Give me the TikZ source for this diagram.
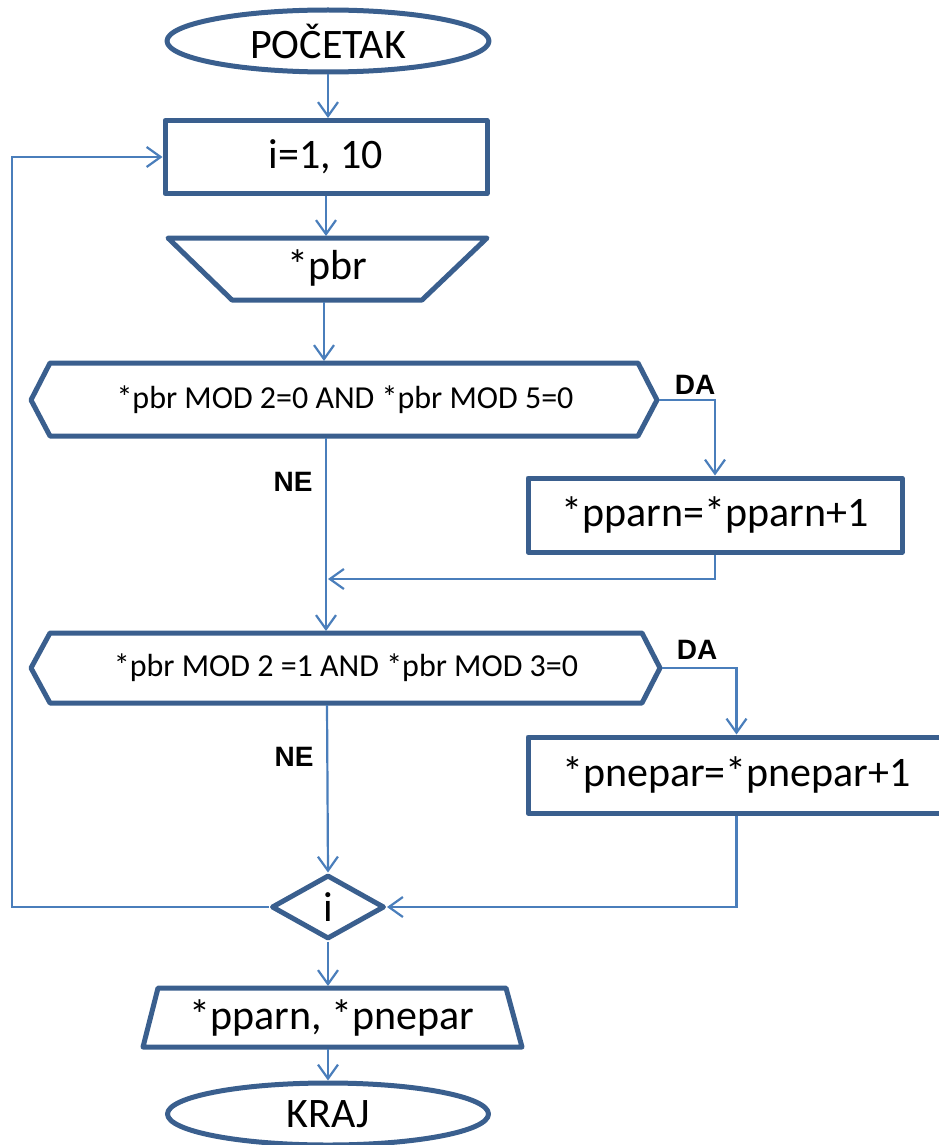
\documentclass[tikz,border=0pt]{standalone}
\usepackage{fontspec}
\setmainfont{Carlito}
\newfontfamily\labfont{Liberation Sans}
\usetikzlibrary{arrows.meta,shapes.geometric}
\definecolor{outl}{HTML}{3A5F8E}
\definecolor{conn}{HTML}{4A7EBB}
\tikzset{
  shp/.style={draw=outl, line width=5pt, line join=round, fill=white},
  bigtxt/.style={font=\fontsize{42}{48}\selectfont, inner sep=0pt},
  midtxt/.style={font=\fontsize{32}{38}\selectfont, inner sep=0pt},
  lbl/.style={font=\labfont\bfseries\fontsize{28}{32}\selectfont, inner sep=0pt},
  con/.style={draw=conn, line width=2.2pt},
  arr/.style={con, -{Straight Barb[length=14pt,width=20pt]}},
}
\begin{document}
\begin{tikzpicture}[x=1pt,y=-1pt]
\useasboundingbox (0,0) rectangle (939,1145);
% terminals and boxes
\node[shp, ellipse, bigtxt, minimum width=322pt, minimum height=62pt] (start) at (328,41) {POČETAK};
\node[shp, rectangle, bigtxt, minimum width=322pt, minimum height=73pt] (init) at (326,157) {i=1, 10};
% input trapezoid
\draw[shp] (168,238) -- (487,238) -- (422,300) -- (232,300) -- cycle;
\node[bigtxt] (inp) at (327,268) {*pbr};
\coordinate (inp-t) at (326,236);
\coordinate (inp-b) at (324,302);
% decision 1
\draw[shp] (50,363) -- (638,363) -- (657,400) -- (638,436) -- (50,436) -- (31,400) -- cycle;
\node[midtxt] (d1) at (345,400) {*pbr MOD 2=0 AND *pbr MOD 5=0};
\coordinate (d1-t) at (324,361);
\coordinate (d1-r) at (659,400);
\coordinate (d1-b) at (326,438);
\node[shp, rectangle, bigtxt, minimum width=374pt, minimum height=74pt] (pparn) at (715,515) {*pparn=*pparn+1};
\coordinate (m1) at (328,579);
% decision 2
\draw[shp] (50,633) -- (642,633) -- (660,668) -- (642,703) -- (50,703) -- (31,668) -- cycle;
\node[midtxt] (d2) at (346,668) {*pbr MOD 2 =1 AND *pbr MOD 3=0};
\coordinate (d2-t) at (326,631);
\coordinate (d2-r) at (662,668);
\coordinate (d2-b) at (327,705);
\node[shp, rectangle, bigtxt, minimum width=417pt, minimum height=76pt] (pnepar) at (736.5,775) {*pnepar=*pnepar+1};
% loop end
\node[shp, diamond, bigtxt, minimum width=113pt, minimum height=64pt] (loop) at (328,907) {i};
\coordinate (lp) at (12,907);
% output
\draw[shp] (158,988) -- (506,988) -- (522,1047) -- (143,1047) -- cycle;
\node[bigtxt] (out) at (332,1018) {*pparn, *pnepar};
\coordinate (out-t) at (328,986);
\coordinate (out-b) at (328,1049);
\node[shp, ellipse, bigtxt, minimum width=321pt, minimum height=62pt] (end) at (328,1114) {KRAJ};
% labels
\node[lbl] (da1) at (695,385) {DA};
\node[lbl] (ne1) at (293,482) {NE};
\node[lbl] (da2) at (697,650) {DA};
\node[lbl] (ne2) at (294,757) {NE};
% connectors
\draw[arr] (start.south) -- (start.south |- init.north);
\draw[arr] (init.south -| inp-t) -- (inp-t);
\draw[arr] (inp-b) -- (d1-t);
\draw[arr] (d1-r) -| (pparn.north);
\draw[arr] (pparn.south) |- (m1);
\draw[arr] (d1-b) -- (d2-t);
\draw[arr] (d2-r) -| (pnepar.north);
\draw[arr] (pnepar.south) |- (loop.east);
\draw[arr] (d2-b) -- (loop.north);
\draw[arr] (loop.west) -- (lp) |- (init.west);
\draw[arr] (loop.south) -- (out-t);
\draw[arr] (out-b) -- (end.north);
\end{tikzpicture}
\end{document}
